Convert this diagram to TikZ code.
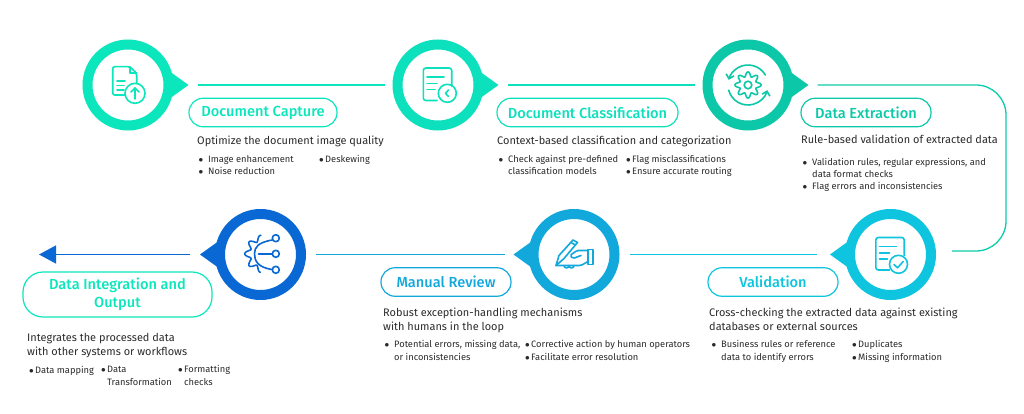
\documentclass[tikz,border=0pt]{standalone}
\usepackage{fontspec}
\setmainfont{Fira Sans}
\newfontfamily\headfont{Fira Sans Medium}
\usetikzlibrary{arrows.meta,calc}

\definecolor{capcol}{HTML}{0CE6BC}
\definecolor{clacol}{HTML}{0CE0BC}
\definecolor{extcol}{HTML}{0CC8A8}
\definecolor{valcol}{HTML}{0EC4DE}
\definecolor{mancol}{HTML}{12A8DC}
\definecolor{intcol}{HTML}{0A68D4}
\definecolor{inkcol}{HTML}{2A2A2A}

\tikzset{
  ring/.style={circle, draw=#1, line width=10pt, minimum size=81pt, inner sep=0pt, fill=white},
  flow/.style={draw=#1, line width=1.3pt},
  pill/.style={draw=#1, text=#1, line width=1.2pt, rounded corners=14pt, minimum height=28.5pt,
    inner sep=0pt, align=center, font=\headfont\fontsize{14.6}{18.5}\selectfont},
  lead/.style={anchor=base west, inner sep=0pt, align=left, text=inkcol,
    font=\fontsize{10.95}{14}\selectfont},
  entry/.style={anchor=base west, inner sep=0pt, align=left, text=inkcol,
    font=\fontsize{9.3}{12.2}\selectfont},
  iconline/.style={draw=#1, line width=1.6pt, line cap=round, line join=round},
}

% bullet hanging to the left of an entry
\newcommand{\blt}[1][5pt]{\llap{$\bullet$\hspace{#1}}}

% page with lines and a round badge at its lower right corner
\newcommand{\docpage}[3]{
  \draw[iconline=#1, rounded corners=2.5pt] (13.7,1) -- (13.7,-17) -- (-14.7,-17) -- (-14.7,15.5) -- (-1,15.5);
  \draw[iconline=#1] (-11,-8) -- (6,-8);
  \draw[iconline=#1] (-11,-1.5) -- (-1,-1.5);
  \draw[iconline=#1] (-11,4.5) -- (-3,4.5);
  \draw[iconline=#1] (#2,#3) circle (9);
}

\begin{document}
\begin{tikzpicture}[x=1pt, y=-1pt]
  \useasboundingbox (0,0) rectangle (1024,414);

  \node[ring=capcol] (capture) at (128,85) {};
  \node[ring=clacol] (classify) at (438,85) {};
  \node[ring=extcol] (extract) at (748,85) {};
  \node[ring=valcol] (validate) at (890.5,254.5) {};
  \node[ring=mancol] (review) at (574,254.5) {};
  \node[ring=intcol] (integrate) at (260.5,254.5) {};

  % pointers on the rings
  \foreach \nd/\col/\ang in {capture/capcol/0, classify/clacol/0, extract/extcol/0,
      validate/valcol/180, review/mancol/180, integrate/intcol/180} {
    \coordinate (\nd tip) at ($(\nd)+(\ang:60.5)$);
    \fill[\col] (\nd tip) -- ($(\nd)+(\ang+16:45)$) -- ($(\nd)+(\ang-16:45)$) -- cycle;
  }

  % connectors
  \coordinate (bendtop) at (1006,85);
  \coordinate (bendend) at (952,251);
  \coordinate (arrowend) at (39,254.5);
  \draw[flow=capcol, shorten <=9pt, shorten >=8pt] (capturetip) -- (classify);
  \draw[flow=clacol, shorten <=9pt, shorten >=8pt] (classifytip) -- (extract);
  \draw[flow=extcol!85!capcol, rounded corners=30pt, shorten <=9pt] (extracttip) -- (bendtop) |- (bendend);
  \draw[flow=valcol, shorten <=13pt, shorten >=10pt] (validatetip) -- (review);
  \draw[flow=mancol, shorten <=9pt, shorten >=10pt] (reviewtip) -- (integrate);
  \draw[flow=intcol, shorten <=10pt, -{Triangle[length=17pt,width=18pt]}] (integratetip) -- (arrowend);

  % headings
  \node[pill=capcol, minimum width=148pt] (capturehead) at (263,112.5) {Document Capture};
  \node[pill=clacol, minimum width=181pt] (classifyhead) at (587.5,112.5) {Document Classification};
  \node[pill=extcol, minimum width=130pt] (extracthead) at (866,112.5) {Data Extraction};
  \node[pill=valcol, minimum width=130pt] (validatehead) at (773,282) {Validation};
  \node[pill=mancol, minimum width=130pt] (reviewhead) at (446,282) {Manual Review};
  \node[pill=capcol, minimum width=189pt, minimum height=45pt, rounded corners=20pt] (integratehead) at (117.5,294.5)
    {Data Integration and\\Output};

  % step 1
  \node[lead] (capturelead) at (197,145) {Optimize the document image quality};
  \node[entry] (capturea) at (208,175) {\blt Image enhancement\\\blt Noise reduction};
  \node[entry] (captureb) at (325,163) {\blt[1.5pt]Deskewing};

  % step 2
  \node[lead] (classifylead) at (497,145) {Context-based classification and categorization};
  \node[entry] (classifya) at (508,175) {\blt Check against pre-defined\\classification models};
  \node[entry] (classifyb) at (632,175) {\blt[1.5pt]Flag misclassifications\\\blt[1.5pt]Ensure accurate routing};

  % step 3
  \node[lead] (extractlead) at (801,144) {Rule-based validation of extracted data};
  \node[entry] (extracta) at (812,189.4) {\blt Validation rules, regular expressions, and\\data format checks\\\blt Flag errors and inconsistencies};

  % step 4
  \node[lead] (validatelead) at (709,330) {Cross-checking the extracted data against existing\\databases or external sources};
  \node[entry] (validatea) at (721,360) {\blt Business rules or reference\\data to identify errors};
  \node[entry] (validateb) at (858,360) {\blt[1.5pt]Duplicates\\\blt[1.5pt]Missing information};

  % step 5
  \node[lead] (reviewlead) at (383,330) {Robust exception-handling mechanisms\\with humans in the loop};
  \node[entry] (reviewa) at (394,360) {\blt Potential errors, missing data,\\or inconsistencies};
  \node[entry] (reviewb) at (531,360) {\blt[1.5pt]Corrective action by human operators\\\blt[1.5pt]Facilitate error resolution};

  % step 6
  \node[lead] (integratelead) at (27,355) {Integrates the processed data\\with other systems or workflows};
  \node[entry] (integratea) at (35,373) {\blt[1.5pt]Data mapping};
  \node[entry] (integrateb) at (107,385) {\blt[1.5pt]Data\\Transformation};
  \node[entry] (integratec) at (184,385) {\blt[1.5pt]Formatting\\checks};

  % icons
  \begin{scope}[shift={(capture)}]
    \draw[iconline=capcol, rounded corners=2pt] (8.7,-2) -- (8.7,-11.7) -- (2,-18.3) -- (-15.3,-18.3) -- (-15.3,10) -- (-3,10);
    \draw[iconline=capcol] (2,-18.3) -- (2,-11.7) -- (8.7,-11.7);
    \draw[iconline=capcol] (-11,-4) -- (-3,-4);
    \draw[iconline=capcol] (-11,0.5) -- (-4,0.5);
    \draw[iconline=capcol] (-11,5) -- (-4,5);
    \draw[iconline=capcol] (7,8.3) circle (10);
    \draw[iconline=capcol] (7,14) -- (7,3);
    \draw[iconline=capcol] (3,7) -- (7,3) -- (11,7);
  \end{scope}

  \begin{scope}[shift={(classify)}]
    \docpage{clacol}{9.3}{8.3}
    \draw[iconline=clacol] (10.5,5) -- (7.5,8.3) -- (10.5,11.6);
  \end{scope}

  \begin{scope}[shift={(extract)}]
    \draw[iconline=extcol, smooth, domain=0:360, samples=97] plot (\x:{10.8+2.3*cos(8*\x)});
    \draw[iconline=extcol] (0,0) circle (3.8);
    \draw[iconline=extcol, -{Straight Barb[length=4pt,width=8pt]}] (-30:20) arc[start angle=-30, end angle=-165, radius=20];
    \draw[iconline=extcol, -{Straight Barb[length=4pt,width=8pt]}] (165:20) arc[start angle=165, end angle=15, radius=20];
  \end{scope}

  \begin{scope}[shift={(validate)}]
    \docpage{valcol}{8}{9.8}
    \draw[iconline=valcol] (3.5,10) -- (7,13.3) -- (12.7,7);
  \end{scope}

  \begin{scope}[shift={(review)}]
    % cuff and hand
    \draw[iconline=mancol] (14,-5) rectangle (19,10);
    \draw[iconline=mancol, rounded corners=1.5pt] (14,-4) -- (3,-4) -- (-4,1) -- (-1,4) -- (7,1);
    \draw[iconline=mancol, rounded corners=1.5pt] (14,7) -- (7,11) -- (-10,11) -- (-18,11);
    \draw[iconline=mancol] (-10,11) arc[start angle=180, end angle=0, radius=2.5];
    \draw[iconline=mancol] (-5,11) arc[start angle=180, end angle=0, radius=2.5];
    % pen
    \draw[iconline=mancol] (-18,11) -- (-15,1) -- (-1,-14.5) -- (3.5,-12) -- (-10,4) -- (-18,11);
    \draw[iconline=mancol] (-3,-12) -- (1.5,-9.5);
  \end{scope}

  \begin{scope}[shift={(integrate)}]
    \draw[iconline=intcol] (15.3,-16.3) circle (3.5);
    \draw[iconline=intcol] (15.3,-0.7) circle (3.5);
    \draw[iconline=intcol] (15.3,15.3) circle (3.5);
    \draw[iconline=intcol] (-2,-0.7) -- (11.8,-0.7);
    \draw[iconline=intcol] (11.8,-14.5) .. controls (-3,-12) and (-6,-7) .. (-6,-0.7) .. controls (-6,6) and (-3,13) .. (11.8,15);
    \draw[iconline=intcol, smooth, domain=100:262, samples=41, shift={(3,-0.7)}] plot (\x:{16+2.8*cos(9*(\x-100))});
  \end{scope}
\end{tikzpicture}
\end{document}
